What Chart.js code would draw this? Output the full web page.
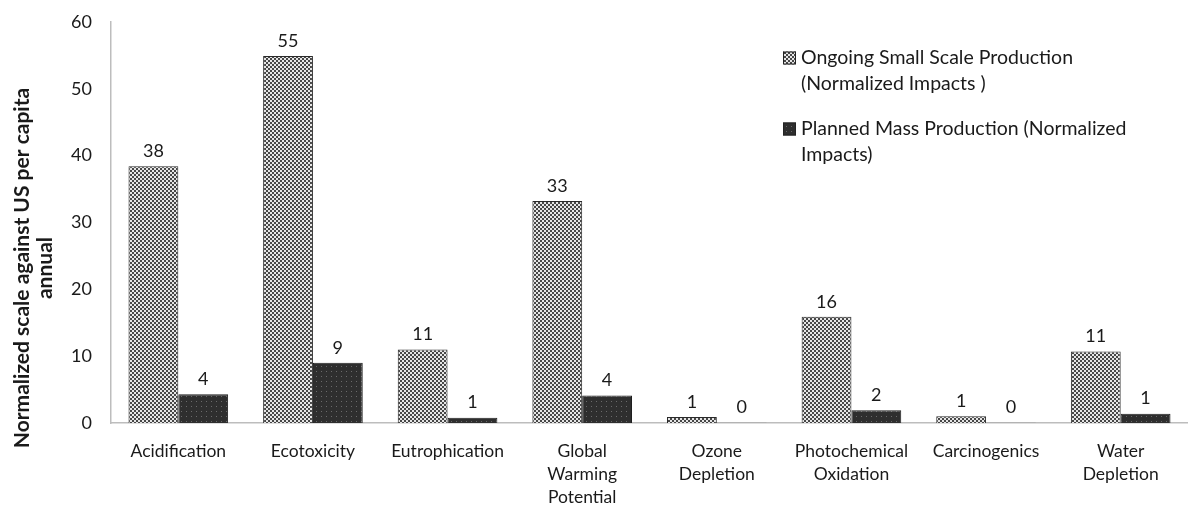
<!DOCTYPE html>
<html>
<head>
<meta charset="utf-8">
<script src="https://cdn.jsdelivr.net/npm/chart.js@4.4.1/dist/chart.umd.min.js"></script>
<style>
  html, body { margin: 0; padding: 0; background: #fff; }
  #wrap { width: 1188px; height: 508px; position: relative; }
</style>
</head>
<body>
<div id="wrap"><canvas id="c" width="1188" height="508"></canvas></div>
<script>
// Impact categories (multi-line tick labels)
const categories = [
  ['Acidification'],
  ['Ecotoxicity'],
  ['Eutrophication'],
  ['Global', 'Warming', 'Potential'],
  ['Ozone', 'Depletion'],
  ['Photochemical', 'Oxidation'],
  ['Carcinogenics'],
  ['Water', 'Depletion']
];

// Normalized impacts against US per capita annual
const smallScale = [38.4, 54.9, 11.0, 33.2, 0.9, 15.9, 1.0, 10.7];
const massProduction = [4.3, 9.0, 0.8, 4.1, 0.05, 1.9, 0.05, 1.4];

const seriesNames = [
  'Ongoing Small Scale Production (Normalized Impacts )',
  'Planned Mass Production (Normalized Impacts)'
];
// Legend text as wrapped lines
const legendLines = [
  ['Ongoing Small Scale Production', '(Normalized Impacts )'],
  ['Planned Mass Production (Normalized', 'Impacts)']
];

const yTicks = [0, 10, 20, 30, 40, 50, 60];
const yTitle = ['Normalized scale against US per capita', 'annual'];

const FONT = 'Lato, "Open Sans", sans-serif';
const TEXT = '#1a1a1a';

// Checkerboard fill for the small-scale series
function checkerPattern() {
  const t = document.createElement('canvas');
  t.width = 4; t.height = 4;
  const g = t.getContext('2d');
  g.fillStyle = '#e6e6e6'; g.fillRect(0, 0, 4, 4);
  g.fillStyle = '#474747';
  g.fillRect(0, 0, 2, 2); g.fillRect(2, 2, 2, 2);
  return g.createPattern(t, 'repeat');
}
// Dark dotted fill for the mass-production series
function dottedPattern() {
  const t = document.createElement('canvas');
  t.width = 5; t.height = 5;
  const g = t.getContext('2d');
  g.fillStyle = '#2e2e2e'; g.fillRect(0, 0, 5, 5);
  g.fillStyle = '#6a6a6a';
  g.fillRect(1, 1, 1, 1);
  return g.createPattern(t, 'repeat');
}
const fills = [checkerPattern(), dottedPattern()];

// Value labels above each bar
const valueLabels = {
  id: 'valueLabels',
  afterDatasetsDraw(chart) {
    const ctx = chart.ctx;
    ctx.save();
    ctx.font = '18px ' + FONT;
    ctx.fillStyle = TEXT;
    ctx.textAlign = 'center';
    ctx.textBaseline = 'bottom';
    chart.data.datasets.forEach((ds, i) => {
      chart.getDatasetMeta(i).data.forEach((bar, j) => {
        ctx.fillText(String(Math.round(ds.data[j])), bar.x, bar.y - 6);
      });
    });
    ctx.restore();
  }
};

// Wrapped legend at the upper right
const wrappedLegend = {
  id: 'wrappedLegend',
  afterDraw(chart) {
    const ctx = chart.ctx;
    ctx.save();
    ctx.font = '19.5px ' + FONT;
    ctx.textBaseline = 'middle';
    ctx.textAlign = 'left';
    const x0 = 783, starts = [58, 129], lh = 26, box = 13;
    chart.data.datasets.forEach((ds, i) => {
      const y = starts[i];
      ctx.fillStyle = ds.backgroundColor;
      ctx.fillRect(x0, y - box / 2, box, box);
      ctx.strokeStyle = '#222';
      ctx.lineWidth = 1;
      ctx.strokeRect(x0 + 0.5, y - box / 2 + 0.5, box - 1, box - 1);
      ctx.fillStyle = TEXT;
      legendLines[i].forEach((line, k) => ctx.fillText(line, x0 + 18, y + k * lh));
    });
    ctx.restore();
  }
};

// Two-line bold axis title on the left
const axisTitle = {
  id: 'axisTitle',
  afterDraw(chart) {
    const ctx = chart.ctx;
    ctx.save();
    ctx.translate(34, 268);
    ctx.rotate(-Math.PI / 2);
    ctx.font = 'bold 21px ' + FONT;
    ctx.fillStyle = TEXT;
    ctx.textAlign = 'center';
    ctx.textBaseline = 'middle';
    ctx.fillText(yTitle[0], 0, -11.5);
    ctx.fillText(yTitle[1], 0, 11.5);
    ctx.restore();
  }
};

new Chart(document.getElementById('c'), {
  type: 'bar',
  data: {
    labels: categories,
    datasets: [
      { label: seriesNames[0], data: smallScale, backgroundColor: fills[0],
        borderColor: '#2a2a2a', borderWidth: 1 },
      { label: seriesNames[1], data: massProduction, backgroundColor: fills[1],
        borderColor: '#1e1e1e', borderWidth: 1 }
    ]
  },
  options: {
    responsive: false,
    animation: false,
    devicePixelRatio: 1,
    layout: { padding: { top: 22, right: 0, left: 0, bottom: 0 } },
    datasets: { bar: { categoryPercentage: 0.74, barPercentage: 1.0 } },
    plugins: {
      legend: { display: false },
      tooltip: { enabled: false }
    },
    scales: {
      x: {
        grid: { display: false, drawTicks: false },
        border: { display: true, color: '#bdbdbd', width: 1.5 },
        ticks: {
          color: TEXT, font: { family: FONT, size: 17.5, lineHeight: 1.32 },
          maxRotation: 0, autoSkip: false, padding: 17
        },
        afterFit(scale) {
          scale.height = 85;
          scale.paddingLeft = 0; scale.paddingRight = 0;
        }
      },
      y: {
        min: 0, max: 60,
        afterBuildTicks(scale) { scale.ticks = yTicks.map(v => ({ value: v })); },
        grid: { display: false, drawTicks: false },
        border: { display: true, color: '#bdbdbd', width: 1.5 },
        ticks: { color: TEXT, font: { family: FONT, size: 18 }, padding: 19 },
        afterFit(scale) {
          scale.width = 111;
          scale.paddingTop = 0; scale.paddingBottom = 0;
        }
      }
    }
  },
  plugins: [valueLabels, wrappedLegend, axisTitle]
});
</script>
</body>
</html>
